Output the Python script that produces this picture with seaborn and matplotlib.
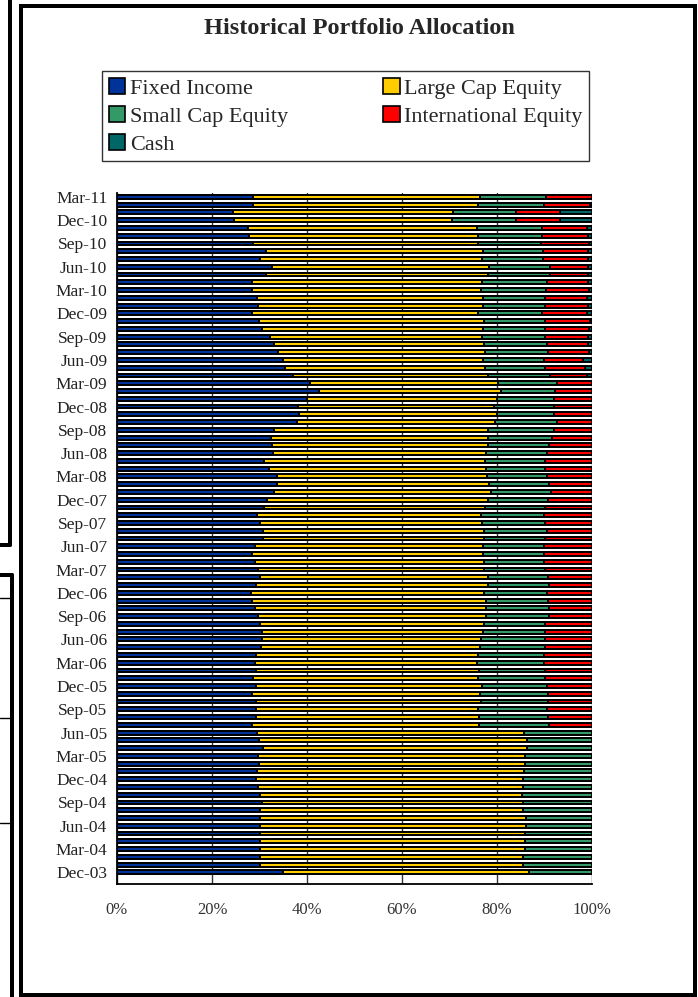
import matplotlib
matplotlib.use("Agg")
import matplotlib.pyplot as plt
from matplotlib.patches import Patch, Rectangle
from matplotlib.lines import Line2D
import numpy as np
import pandas as pd
import seaborn as sns

# monthly allocation snapshots, Dec-03 .. Mar-11 (percent of portfolio)
months = pd.date_range("2003-12-01", "2011-03-01", freq="MS").strftime("%b-%y").tolist()

fixed_income = [35.0,
    30.0, 30.0, 30.0, 30.0, 30.0, 30.0, 30.0, 30.0, 30.5, 30.0, 29.7, 29.3,
    29.4, 29.9, 29.7, 30.8, 29.9, 29.5, 28.4, 29.2, 29.3, 29.3, 28.4, 29.3,
    28.7, 29.2, 29.1, 29.3, 30.3, 30.6, 30.6, 30.1, 29.7, 29.1, 28.5, 28.2,
    29.2, 30.2, 29.7, 29.1, 28.5, 29.1, 30.8, 30.8, 30.0, 29.4, 30.9, 31.5,
    33.1, 33.6, 33.6, 32.1, 31.0, 32.9, 32.6, 32.4, 33.1, 37.8, 38.4, 38.2,
    40.1, 42.5, 40.6, 37.1, 35.4, 35.0, 33.8, 33.1, 32.2, 30.5, 29.8, 28.5,
    29.6, 29.5, 28.5, 28.5, 31.3, 32.7, 30.2, 31.3, 28.7, 27.8, 27.5, 24.7,
    24.4, 28.7, 28.7]
large_cap = [51.7,
    55.5, 55.4, 55.8, 55.8, 55.8, 56.0, 56.1, 55.5, 55.0, 55.2, 55.7, 56.2,
    56.3, 56.0, 56.2, 55.6, 56.4, 56.2, 47.8, 47.1, 46.6, 47.3, 48.1, 47.5,
    47.4, 47.1, 46.6, 46.6, 46.1, 46.0, 46.4, 47.2, 47.9, 48.5, 49.2, 49.1,
    48.8, 47.8, 47.6, 48.2, 48.6, 47.9, 46.5, 46.5, 46.9, 47.2, 46.6, 46.5,
    45.6, 44.8, 44.2, 45.6, 46.5, 44.8, 45.4, 45.6, 45.1, 41.8, 41.7, 41.2,
    40.0, 38.3, 39.7, 41.1, 42.1, 42.0, 43.7, 44.2, 44.6, 46.6, 47.5, 47.6,
    47.5, 47.5, 48.2, 48.3, 46.7, 45.6, 46.6, 45.8, 47.4, 48.1, 48.2, 45.8,
    46.3, 47.4, 47.7]
small_cap = [13.3,
    14.5, 14.6, 14.2, 14.2, 14.2, 14.0, 13.9, 14.5, 14.5, 14.8, 14.6, 14.5,
    14.3, 14.1, 14.1, 13.6, 13.7, 14.3, 14.8, 14.5, 14.6, 14.2, 14.3, 13.7,
    14.0, 13.9, 14.2, 13.9, 13.7, 13.6, 13.1, 12.9, 13.4, 13.4, 13.1, 13.2,
    13.0, 12.8, 12.8, 12.6, 12.8, 12.9, 12.9, 13.2, 13.3, 13.3, 12.7, 12.7,
    12.6, 12.6, 12.8, 12.5, 12.7, 12.8, 13.0, 13.6, 13.8, 13.0, 11.8, 12.5,
    12.0, 11.5, 12.3, 13.0, 12.7, 12.9, 13.2, 13.2, 13.4, 13.1, 12.8, 13.4,
    13.1, 13.2, 13.6, 13.7, 13.2, 12.9, 12.8, 12.5, 13.2, 13.5, 13.7, 13.5,
    13.3, 13.7, 13.9]
international = [0.0,
    0.0, 0.0, 0.0, 0.0, 0.0, 0.0, 0.0, 0.0, 0.0, 0.0, 0.0, 0.0,
    0.0, 0.0, 0.0, 0.0, 0.0, 0.0, 9.0, 9.2, 9.5, 9.2, 9.2, 9.5,
    9.9, 9.8, 10.1, 10.2, 9.9, 9.8, 9.9, 9.8, 9.0, 9.0, 9.2, 9.5,
    9.0, 9.2, 9.9, 10.1, 10.1, 10.1, 9.8, 9.5, 9.8, 10.1, 9.8, 9.3,
    8.7, 9.0, 9.4, 9.8, 9.8, 9.5, 9.0, 8.4, 8.0, 7.4, 8.1, 8.1,
    7.9, 7.7, 7.4, 7.8, 8.3, 8.3, 8.7, 8.7, 9.0, 9.2, 9.5, 9.4,
    9.0, 8.8, 9.1, 8.7, 8.0, 8.0, 9.6, 9.6, 10.0, 9.8, 9.6, 9.3,
    9.3, 9.8, 9.7]
cash = [0.0,
    0.0, 0.0, 0.0, 0.0, 0.0, 0.0, 0.0, 0.0, 0.0, 0.0, 0.0, 0.0,
    0.0, 0.0, 0.0, 0.0, 0.0, 0.0, 0.0, 0.0, 0.0, 0.0, 0.0, 0.0,
    0.0, 0.0, 0.0, 0.0, 0.0, 0.0, 0.0, 0.0, 0.0, 0.0, 0.0, 0.0,
    0.0, 0.0, 0.0, 0.0, 0.0, 0.0, 0.0, 0.0, 0.0, 0.0, 0.0, 0.0,
    0.0, 0.0, 0.0, 0.0, 0.0, 0.0, 0.0, 0.0, 0.0, 0.0, 0.0, 0.0,
    0.0, 0.0, 0.0, 1.0, 1.5, 1.8, 0.6, 0.8, 0.8, 0.6, 0.4, 1.1,
    0.8, 1.0, 0.6, 0.8, 0.8, 0.8, 0.8, 0.8, 0.7, 0.8, 1.0, 6.7,
    6.7, 0.4, 0.0]

assets = ["Fixed Income", "Large Cap Equity", "Small Cap Equity", "International Equity", "Cash"]
colors = {"Fixed Income": "#003399", "Large Cap Equity": "#FFCC00",
          "Small Cap Equity": "#339966", "International Equity": "#FF0000",
          "Cash": "#006666"}

df = pd.DataFrame({"month": months, "Fixed Income": fixed_income,
                   "Large Cap Equity": large_cap, "Small Cap Equity": small_cap,
                   "International Equity": international, "Cash": cash})
cum = df[assets].cumsum(axis=1)
cum["month"] = df["month"]
order = months[::-1]   # newest on top

sns.set_style("white")
plt.rcParams["font.family"] = ["Liberation Serif", "DejaVu Serif"]

W, H = 698, 997
fig = plt.figure(figsize=(W / 100, H / 100), dpi=100)

def fx(x):
    return x / W

def fy(y):
    return 1 - y / H

ax = fig.add_axes([fx(117), fy(884), fx(592) - fx(117), fy(193) - fy(884)])

# stacked bars: draw running totals from the outside in
for name in reversed(assets):
    sns.barplot(data=cum, x=name, y="month", order=order, orient="h",
                color=colors[name], saturation=1, edgecolor="black",
                linewidth=1.4, width=0.5, ax=ax, zorder=3)

ax.set_xlim(0, 100)
ax.set_ylim(len(order) + 0.5, -0.5)
ax.set_xticks(range(0, 101, 20))
ax.set_xticklabels([f"{v}%" for v in range(0, 101, 20)], fontsize=12, color="#333333")
lab_pos = list(range(0, len(order), 3))
ax.set_yticks(lab_pos)
ax.set_yticklabels([order[i] for i in lab_pos], fontsize=12.5, color="#222222")
ax.set_yticks([p + 0.5 for p in lab_pos], minor=True)
ax.tick_params(axis="y", which="major", length=0, pad=7)
ax.tick_params(axis="y", which="minor", length=7, width=1.2, color="black", direction="out")
ax.tick_params(axis="x", length=8, width=1.2, color="black", direction="out", pad=5)
ax.set_xlabel("")
ax.set_ylabel("")
ax.grid(axis="x", color="#333333", linewidth=1.0, zorder=0)
ax.set_axisbelow(True)
for s in ["top", "right"]:
    ax.spines[s].set_visible(False)
for s in ["left", "bottom"]:
    ax.spines[s].set_color("black")
    ax.spines[s].set_linewidth(1.3)

fig.text(fx(359), fy(28), "Historical Portfolio Allocation", ha="center", va="center",
         fontsize=17.5, fontweight="bold")

handles = [Patch(facecolor=colors[a], edgecolor="black", linewidth=1.2, label=a)
           for a in ["Fixed Income", "Small Cap Equity", "Cash", "Large Cap Equity", "International Equity"]]
leg = fig.legend(handles=handles, ncol=2, loc="upper left", mode="expand",
                 bbox_to_anchor=(fx(102), fy(159), fx(589) - fx(102), fy(71) - fy(159)),
                 bbox_transform=fig.transFigure, fontsize=16, frameon=True,
                 fancybox=False, edgecolor="black", handlelength=0.75, handleheight=0.75,
                 handletextpad=0.2, labelspacing=0.32, borderpad=0.3, borderaxespad=0)
leg.get_frame().set_linewidth(1.0)

# panel frame and neighbouring panel edges
lw = 4 * 72 / 100
fig.add_artist(Rectangle((fx(21), fy(995)), fx(695) - fx(21), fy(6) - fy(995),
                         transform=fig.transFigure, fill=False, edgecolor="black", linewidth=lw))
for xs, ys, w in [((10, 10), (0, 545), lw), ((0, 10), (545, 545), lw),
                  ((0, 12), (575, 575), lw), ((12, 12), (575, 997), lw),
                  ((0, 12), (598, 598), 1), ((0, 12), (718, 718), 1),
                  ((0, 12), (823, 823), 1)]:
    fig.add_artist(Line2D([fx(x) for x in xs], [fy(y) for y in ys],
                          transform=fig.transFigure, color="black", linewidth=w))

fig.savefig("out.png", dpi=100)
